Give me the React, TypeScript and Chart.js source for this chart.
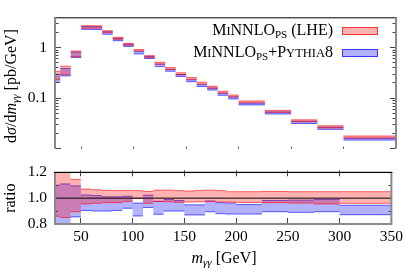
import React, { useEffect, useRef } from 'react';
import { Chart, registerables } from 'chart.js';

Chart.register(...registerables);

// ---------- data ----------
const binEdges = [25, 30, 40, 50, 60, 70, 80, 90, 100, 110, 120, 130, 140, 150, 160, 170, 180, 190, 200, 225, 250, 275, 300, 350];
// reference cross section per bin [pb/GeV] (ratio denominator)
const refXsec = [0.27, 0.35, 0.75, 2.55, 2.55, 2.05, 1.52, 1.15, 0.87, 0.66, 0.485, 0.38, 0.30, 0.244, 0.196, 0.162, 0.130, 0.11, 0.084, 0.0545, 0.0355, 0.027, 0.017];
// MiNNLO_PS (LHE) band, as ratio
const lheRatioHi = [1.26, 1.23, 1.145, 1.07, 1.065, 1.06, 1.058, 1.06, 1.058, 1.052, 1.062, 1.062, 1.058, 1.055, 1.06, 1.062, 1.058, 1.05, 1.05, 1.052, 1.05, 1.05, 1.05];
const lheRatioLo = [0.86, 0.85, 0.895, 0.955, 0.96, 0.965, 0.965, 0.975, 0.998, 0.96, 0.975, 0.972, 0.968, 0.97, 0.972, 0.975, 0.97, 0.97, 0.967, 0.965, 0.962, 0.955, 0.96];
// MiNNLO_PS + Pythia8 band, as ratio
const pyRatioHi = [1.10, 1.11, 1.095, 1.025, 1.02, 1.01, 1.01, 1.015, 0.962, 1.023, 0.975, 0.99, 0.982, 0.948, 0.948, 0.978, 0.965, 0.963, 0.95, 0.982, 0.985, 0.99, 0.945];
const pyRatioLo = [0.76, 0.79, 0.855, 0.905, 0.9, 0.9, 0.905, 0.922, 0.862, 0.928, 0.875, 0.9, 0.9, 0.87, 0.87, 0.895, 0.88, 0.877, 0.877, 0.895, 0.89, 0.895, 0.872];

const xTickValues = [50, 100, 150, 200, 250, 300, 350];
const yTickValuesTop = [0.01, 0.02, 0.03, 0.04, 0.05, 0.06, 0.07, 0.08, 0.09, 0.1, 0.2, 0.3, 0.4, 0.5, 0.6, 0.7, 0.8, 0.9, 1, 2, 3, 4];
const yTickLabelsTop = [0.1, 1];
const yTickValuesRatio = [0.8, 0.9, 1.0, 1.1, 1.2];
const yTickLabelsRatio = [0.8, 1.0, 1.2];

// ---------- style ----------
const FONT = '"Liberation Serif", "Times New Roman", serif';
const FS = 15.5;
const RED_FILL = 'rgba(255,0,0,0.3)';
const RED_LINE = 'rgba(255,0,0,0.6)';
const BLUE_FILL = 'rgba(0,0,255,0.3)';
const BLUE_LINE = 'rgba(0,0,255,0.6)';
const TICK = '#444';
const FRAME_GRAY = '#8a8a8a';

const mul = (a: number[], b: number[]) => a.map((v, i) => v * b[i]);
const stepData = (vals: number[]) => binEdges.map((e, i) => ({ x: e, y: vals[Math.min(i, vals.length - 1)] }));
const segData = (vals: number[]) =>
  vals.flatMap((v, i) => [
    { x: binEdges[i], y: v },
    { x: binEdges[i + 1], y: v },
    { x: binEdges[i + 1], y: null as any },
  ]);

function bandDatasets(hi: number[], lo: number[], fillColor: string, lineColor: string) {
  const base = { pointRadius: 0, borderWidth: 0, tension: 0 };
  return [
    { ...base, data: stepData(hi), stepped: true, fill: false, borderColor: 'transparent' },
    { ...base, data: stepData(lo), stepped: true, fill: '-1', backgroundColor: fillColor, borderColor: 'transparent' },
    { ...base, data: segData(hi), borderWidth: 1, borderColor: lineColor, fill: false, spanGaps: false },
    { ...base, data: segData(lo), borderWidth: 1, borderColor: lineColor, fill: false, spanGaps: false },
  ];
}

type Run = { t: string; size: number; italic?: boolean; dy?: number };

function runsWidth(ctx: CanvasRenderingContext2D, runs: Run[]) {
  let w = 0;
  for (const r of runs) {
    ctx.font = `${r.italic ? 'italic ' : ''}${r.size}px ${FONT}`;
    w += ctx.measureText(r.t).width;
  }
  return w;
}
function drawRuns(ctx: CanvasRenderingContext2D, runs: Run[], x: number, baseline: number) {
  ctx.textAlign = 'left';
  ctx.textBaseline = 'alphabetic';
  for (const r of runs) {
    ctx.font = `${r.italic ? 'italic ' : ''}${r.size}px ${FONT}`;
    ctx.fillText(r.t, x, baseline + (r.dy || 0));
    x += ctx.measureText(r.t).width;
  }
}

const legendLHE: Run[] = [
  { t: 'M', size: 16 }, { t: 'I', size: 12.5 }, { t: 'NNLO', size: 16 }, { t: 'PS', size: 11, dy: 3 },
  { t: ' (LHE)', size: 16 },
];
const legendPY: Run[] = [
  { t: 'M', size: 16 }, { t: 'I', size: 12.5 }, { t: 'NNLO', size: 16 }, { t: 'PS', size: 11, dy: 3 },
  { t: '+P', size: 16 }, { t: 'YTHIA', size: 12.5 }, { t: '8', size: 16 },
];
const yTitleTop: Run[] = [
  { t: 'd', size: 16 }, { t: 'σ', size: 16, italic: true }, { t: '/d', size: 16 }, { t: 'm', size: 16, italic: true },
  { t: 'γγ', size: 11, italic: true, dy: 3 }, { t: ' [pb/GeV]', size: 16 },
];
const yTitleRatio: Run[] = [{ t: 'ratio', size: 16 }];
const xTitle: Run[] = [{ t: 'm', size: 16, italic: true }, { t: 'γγ', size: 11, italic: true, dy: 3 }, { t: ' [GeV]', size: 16 }];

const isDecade = (v: number) => Math.abs(Math.log10(v) - Math.round(Math.log10(v))) < 1e-6;

const topDeco = {
  id: 'topDeco',
  afterDraw(chart: any) {
    const { ctx, chartArea } = chart;
    const { left, right, top, bottom } = chartArea;
    const y = chart.scales.y;
    const x = chart.scales.x;
    ctx.save();
    ctx.fillStyle = TICK;
    for (const v of yTickValuesTop) {
      const py = Math.floor(y.getPixelForValue(v));
      if (py <= top || py >= bottom) continue;
      const len = isDecade(v) ? 6 : 3.5;
      ctx.fillRect(left, py, len, 1);
      ctx.fillRect(right - len, py, len, 1);
    }
    for (const v of xTickValues) {
      const px = Math.floor(x.getPixelForValue(v));
      if (px <= left || px >= right) continue;
      ctx.fillRect(px, bottom - 2, 1, 2);
    }
    // frame
    ctx.fillStyle = '#000';
    ctx.fillRect(left - 1, top, right - left + 2, 1);
    ctx.fillStyle = FRAME_GRAY;
    ctx.fillRect(left - 1, top, 2, bottom - top);
    ctx.fillRect(right - 1, top, 2, bottom - top);
    // y title
    ctx.fillStyle = '#000';
    ctx.save();
    ctx.translate(16, 86);
    ctx.rotate(-Math.PI / 2);
    const w = runsWidth(ctx, yTitleTop);
    drawRuns(ctx, yTitleTop, -w / 2, 0);
    ctx.restore();
    // legend
    const textRight = 333;
    drawRuns(ctx, legendLHE, textRight - runsWidth(ctx, legendLHE), 35);
    drawRuns(ctx, legendPY, textRight - runsWidth(ctx, legendPY), 57);
    ctx.fillStyle = RED_FILL;
    ctx.fillRect(342, 27, 36, 8);
    ctx.strokeStyle = 'rgba(255,0,0,0.7)';
    ctx.lineWidth = 1;
    ctx.strokeRect(342.5, 27.5, 35, 7);
    ctx.fillStyle = BLUE_FILL;
    ctx.fillRect(342, 49, 36, 8);
    ctx.strokeStyle = 'rgba(0,0,255,0.7)';
    ctx.strokeRect(342.5, 49.5, 35, 7);
    ctx.restore();
  },
};

const botDeco = {
  id: 'botDeco',
  afterDraw(chart: any) {
    const { ctx, chartArea } = chart;
    const { left, right, top, bottom } = chartArea;
    const y = chart.scales.y;
    const x = chart.scales.x;
    ctx.save();
    ctx.fillStyle = TICK;
    for (const v of yTickValuesRatio) {
      const py = Math.floor(y.getPixelForValue(v));
      if (py <= top + 1 || py >= bottom - 1) continue;
      const major = yTickLabelsRatio.some((l) => Math.abs(l - v) < 1e-6);
      const len = major ? 5 : 3;
      ctx.fillRect(left, py, len, 1);
      ctx.fillRect(right - len, py, len, 1);
    }
    for (const v of xTickValues) {
      const px = Math.floor(x.getPixelForValue(v));
      if (px <= left || px >= right - 1) continue;
      ctx.fillRect(px, bottom - 6, 1, 6);
      ctx.fillRect(px, top - 2, 1, 6);
    }
    // frame
    ctx.fillStyle = FRAME_GRAY;
    ctx.fillRect(left - 1, top, 2, bottom - top);
    ctx.fillRect(right - 1, top, 2, bottom - top);
    ctx.fillRect(left - 1, bottom - 1, right - left + 2, 2);
    ctx.fillStyle = '#000';
    ctx.fillRect(left - 1, top - 0.5, right - left + 2, 1.2);
    // titles
    ctx.save();
    ctx.translate(15, (top + bottom) / 2);
    ctx.rotate(-Math.PI / 2);
    const w = runsWidth(ctx, yTitleRatio);
    drawRuns(ctx, yTitleRatio, -w / 2, 0);
    ctx.restore();
    const xw = runsWidth(ctx, xTitle);
    drawRuns(ctx, xTitle, 224 - xw / 2, 108);
    ctx.restore();
  },
};

function topConfig(): any {
  return {
    type: 'line',
    data: {
      datasets: [
        ...bandDatasets(mul(refXsec, lheRatioHi), mul(refXsec, lheRatioLo), RED_FILL, RED_LINE),
        ...bandDatasets(mul(refXsec, pyRatioHi), mul(refXsec, pyRatioLo), BLUE_FILL, BLUE_LINE),
      ],
    },
    options: {
      animation: false,
      responsive: false,
      maintainAspectRatio: false,
      events: [],
      layout: { padding: { top: 5, right: 11, bottom: 1, left: 0 } },
      plugins: { legend: { display: false }, tooltip: { enabled: false } },
      scales: {
        x: { type: 'linear', min: 25, max: 350, display: false },
        y: {
          type: 'logarithmic',
          min: 0.01,
          max: 4,
          afterFit: (s: any) => { s.width = 55; },
          afterBuildTicks: (s: any) => { s.ticks = yTickValuesTop.map((v) => ({ value: v })); },
          grid: { display: false, drawTicks: false },
          border: { display: false },
          ticks: {
            autoSkip: false,
            padding: 8,
            color: '#000',
            font: { family: FONT, size: FS },
            callback: (v: number) => (yTickLabelsTop.some((l) => Math.abs(l - v) < 1e-9) ? String(v) : ''),
          },
        },
      },
    },
    plugins: [topDeco],
  };
}

function botConfig(): any {
  return {
    type: 'line',
    data: {
      datasets: [
        { data: [{ x: 25, y: 1 }, { x: 350, y: 1 }], borderColor: '#000', borderWidth: 1, pointRadius: 0, fill: false },
        ...bandDatasets(lheRatioHi, lheRatioLo, RED_FILL, RED_LINE),
        ...bandDatasets(pyRatioHi, pyRatioLo, BLUE_FILL, BLUE_LINE),
      ],
    },
    options: {
      animation: false,
      responsive: false,
      maintainAspectRatio: false,
      events: [],
      layout: { padding: { top: 10, right: 11, bottom: 0, left: 0 } },
      plugins: { legend: { display: false }, tooltip: { enabled: false } },
      scales: {
        x: {
          type: 'linear',
          min: 25,
          max: 350,
          afterFit: (s: any) => { s.height = 47; },
          afterBuildTicks: (s: any) => { s.ticks = xTickValues.map((v) => ({ value: v })); },
          grid: { display: false, drawTicks: false },
          border: { display: false },
          ticks: { autoSkip: false, maxRotation: 0, padding: 4, color: '#000', font: { family: FONT, size: FS } },
        },
        y: {
          type: 'linear',
          min: 0.8,
          max: 1.2,
          afterFit: (s: any) => { s.width = 55; },
          afterBuildTicks: (s: any) => { s.ticks = yTickValuesRatio.map((v) => ({ value: v })); },
          grid: { display: false, drawTicks: false },
          border: { display: false },
          ticks: {
            autoSkip: false,
            padding: 8,
            color: '#000',
            font: { family: FONT, size: FS },
            callback: (v: number) => (yTickLabelsRatio.some((l) => Math.abs(l - v) < 1e-6) ? v.toFixed(1) : ''),
          },
        },
      },
    },
    plugins: [botDeco],
  };
}

export default function App() {
  const topRef = useRef<HTMLCanvasElement>(null);
  const botRef = useRef<HTMLCanvasElement>(null);
  useEffect(() => {
    const top = new Chart(topRef.current as HTMLCanvasElement, topConfig());
    const bot = new Chart(botRef.current as HTMLCanvasElement, botConfig());
    return () => {
      top.destroy();
      bot.destroy();
    };
  }, []);
  return (
    <div style={{ position: 'fixed', left: 0, top: 0, width: 407, height: 271, background: '#fff', overflow: 'hidden' }}>
      <canvas ref={topRef} width={407} height={166} style={{ position: 'absolute', left: 0, top: 0, width: 407, height: 166 }} />
      <canvas ref={botRef} width={407} height={116} style={{ position: 'absolute', left: 0, top: 155, width: 407, height: 116 }} />
    </div>
  );
}
